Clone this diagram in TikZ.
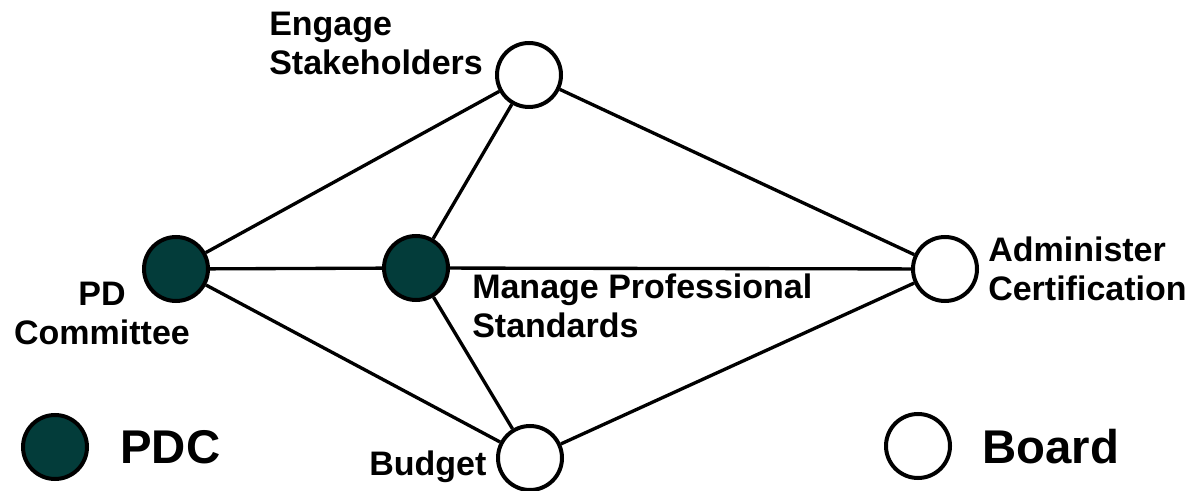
\documentclass[tikz,border=0pt]{standalone}
\usepackage{fontspec}
\setmainfont{Liberation Sans}
\definecolor{pdcgreen}{RGB}{3,60,58}
\begin{document}
\begin{tikzpicture}[x=0.75pt,y=-0.75pt,
  role/.style={circle,draw,line width=3pt,inner sep=0pt,minimum size=48pt},
  pdc/.style={role,fill=pdcgreen},
  board/.style={role,fill=white},
  link/.style={line width=2.5pt},
  lbl/.style={inner sep=0pt,font=\bfseries\fontsize{25.5}{29.5}\selectfont},
  key/.style={inner sep=0pt,font=\bfseries\fontsize{35.5}{42}\selectfont}]
\useasboundingbox(0,0)rectangle(1199,491);
% roles
\node[board](eng)at(529,75){};
\node[pdc](pdc)at(176,269){};
\node[pdc](mps)at(416,268){};
\node[board](adm)at(945,269){};
\node[board](bud)at(530,458){};
% links
\foreach \ka/\kb in {pdc/eng,pdc/mps,pdc/bud,mps/eng,mps/adm,mps/bud,eng/adm,bud/adm}{\draw[link](\ka)--(\kb);}
% labels (base = last line)
\node[lbl,anchor=base west,align=left](englb)at(269,75){Engage\\Stakeholders};
\node[lbl,anchor=base,align=center](pdclb)at(102,345){PD\\Committee};
\node[lbl,anchor=base west,align=left](mpslb)at(472,338){Manage Professional\\Standards};
\node[lbl,anchor=base west,align=left](admlb)at(988,301){Administer\\Certification};
\node[lbl,anchor=base west](budlb)at(369,475){Budget};
% legend
\node[pdc](kpdc)at(55,447){};
\node[key,anchor=base west](kpdclb)at(120,463){PDC};
\node[board](kboard)at(918,446){};
\node[key,anchor=base west](kboardlb)at(982,463){Board};
\end{tikzpicture}
\end{document}
